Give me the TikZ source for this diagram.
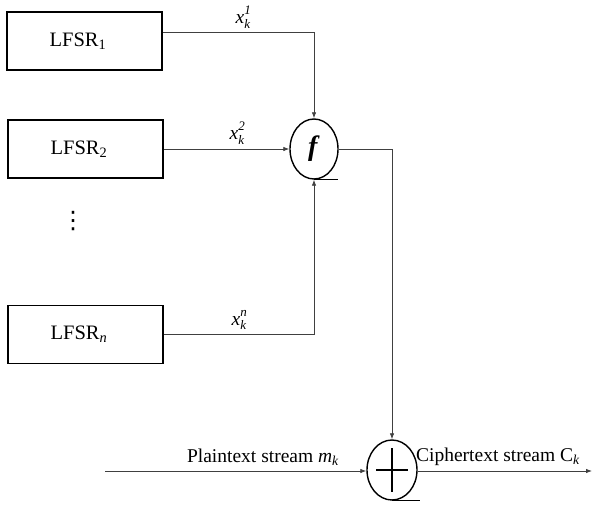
\documentclass[tikz,border=0pt]{standalone}
\usepackage{fontspec}
\setmainfont{Liberation Serif}
\newfontfamily\djfont{DejaVu Sans}
\usetikzlibrary{arrows.meta,shapes.geometric}
\newcommand\xk[1]{\textit{x}\makebox[0pt][l]{\raisebox{0.45em}{\fontsize{13}{13}\selectfont\textit{#1}}}\raisebox{-0.25em}{\fontsize{13}{13}\selectfont\textit{k}}}
\tikzset{
  lfsr/.style={draw=black,line width=1.4pt,minimum width=155pt,minimum height=58pt,inner sep=0pt,font=\fontsize{20.5}{22}\selectfont},
  op/.style={draw=black,line width=1.4pt,ellipse,minimum width=48pt,minimum height=60pt,inner sep=0pt},
  conn/.style={draw=black!75,line width=0.8pt},
  arr/.style={conn,-{Latex[length=6pt,width=4.5pt]}},
  lbl/.style={font=\fontsize{19.5}{22}\selectfont,inner sep=0pt}
}
\begin{document}
\begin{tikzpicture}[x=1pt,y=-1pt]
\useasboundingbox (0,0) rectangle (597,504);
\node[lfsr,line width=1.8pt] (l1) at (84.5,41) {\hspace*{-13pt}LFSR\textsubscript{1}};
\node[lfsr] (l2) at (85.5,149) {\hspace*{-13pt}LFSR\textsubscript{2}};
\node[lfsr] (ln) at (85.5,334.5) {\hspace*{-13pt}LFSR\textsubscript{\textit{n}}};
\node[inner sep=0pt,font=\djfont\fontsize{24}{24}\selectfont] (dots) at (73,221) {⋮};
\node[op] (f) at (314,149) {\fontsize{28}{28}\selectfont\textbf{\textit{f}}};
\node[op,minimum width=50pt] (x) at (392,470) {};
\draw[line width=2.2pt] ([xshift=-16pt]x.center) -- ([xshift=16pt]x.center);
\draw[line width=2.2pt] ([yshift=22pt]x.center) -- ([yshift=-22pt]x.center);
\draw[line width=1.4pt] (f.south) -- ++(24,0);
\draw[line width=1.4pt] (x.south) -- ++(28,0);
% connectors
\draw[arr] ([yshift=9pt]l1.east) -| (f.north);
\draw[arr] (l2.east) -- (f.west);
\draw[arr] (ln.east) -| (f.south);
\draw[arr] (f.east) -| (x.north);
\coordinate (pin) at (105,471);
\coordinate (cout) at (592,471);
\draw[arr] (pin) -- (pin -| x.west);
\draw[arr] (cout -| x.east) -- (cout);
% labels
\node[lbl] (t1) at (243,17) {\xk{1}};
\node[lbl] (t2) at (237,133) {\xk{2}};
\node[lbl] (tn) at (239,320) {\xk{n}};
\node[lbl] (pt) at (263,457) {Plaintext stream \textit{m}\textsubscript{\textit{k}}};
\node[lbl] (ct) at (498,457) {Ciphertext stream C\textsubscript{\textit{k}}};
\end{tikzpicture}
\end{document}
